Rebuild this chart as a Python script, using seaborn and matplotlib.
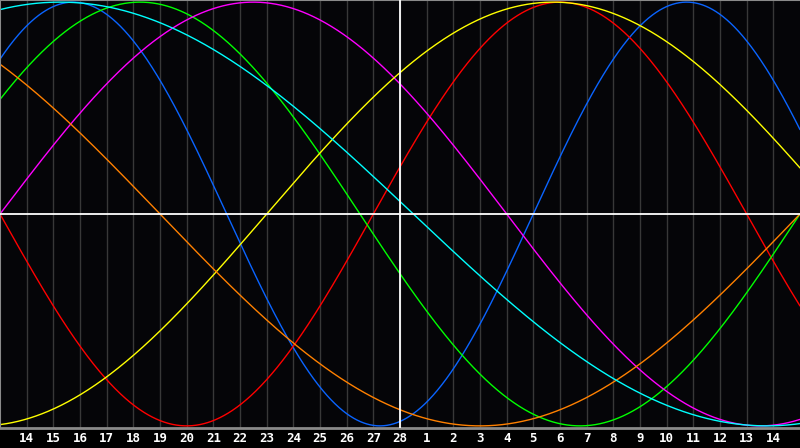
import matplotlib
matplotlib.use("Agg")
import matplotlib.pyplot as plt
import numpy as np
import pandas as pd
import seaborn as sns

# biorhythm cycles shown on the chart
cycle_names = ["physical", "emotional", "intellectual", "intuitive", "aesthetic", "awareness", "spiritual"]
cycle_periods = [23, 28, 33, 38, 43, 48, 53]
cycle_colors = ["#0a64ff", "#ff0000", "#00ff00", "#ff00ff", "#ffff00", "#ff8000", "#00ffff"]

# days alive on the first labelled day (Feb 14)
age_at_start = 31123

# day labels along the bottom: Feb 14..28 then Mar 1..14
day_labels = [str(d) for d in range(14, 29)] + [str(d) for d in range(1, 15)]

# build a long dataframe of the cycles over the visible window
t = np.linspace(-1, len(day_labels), 1200)
rows = []
for name, period in zip(cycle_names, cycle_periods):
    vals = np.sin(2 * np.pi * (age_at_start + t) / period)
    rows.append(pd.DataFrame({"day": t, "value": vals, "cycle": name}))
df = pd.concat(rows, ignore_index=True)

sns.set_theme(style="dark", rc={"axes.facecolor": "#050508", "figure.facecolor": "#000000"})
plt.rcParams["font.family"] = ["DejaVu Sans Mono", "DejaVu Sans"]

fig = plt.figure(figsize=(8, 4.48), dpi=100)
ax = fig.add_axes([0.0, 20 / 448, 1.0, 428 / 448])

# day grid lines
for i in range(len(day_labels)):
    ax.axvline(i, color="#383838", linewidth=1.0, zorder=0)

sns.lineplot(data=df, x="day", y="value", hue="cycle", palette=dict(zip(cycle_names, cycle_colors)),
             linewidth=1.0, legend=False, ax=ax, sort=False)

# centre cross
ax.axhline(0, color="white", linewidth=1.3, zorder=5)
ax.axvline(14, color="white", linewidth=1.3, zorder=5)

ax.set_xlim(-1, len(day_labels))
ax.set_ylim(-1.01, 1.01)
ax.set_xticks(range(len(day_labels)))
ax.set_xticklabels(day_labels, color="white", fontsize=9, fontweight="bold")
ax.set_yticks([])
ax.tick_params(axis="x", length=0, pad=3)
ax.set_xlabel("")
ax.set_ylabel("")

for side in ["left", "top", "bottom"]:
    ax.spines[side].set_visible(True)
    ax.spines[side].set_color("#8a8a8a")
    ax.spines[side].set_linewidth(1.5)
ax.spines["right"].set_visible(False)
ax.spines["bottom"].set_linewidth(2.0)

fig.savefig("out.png", dpi=100, facecolor=fig.get_facecolor())
plt.close(fig)
